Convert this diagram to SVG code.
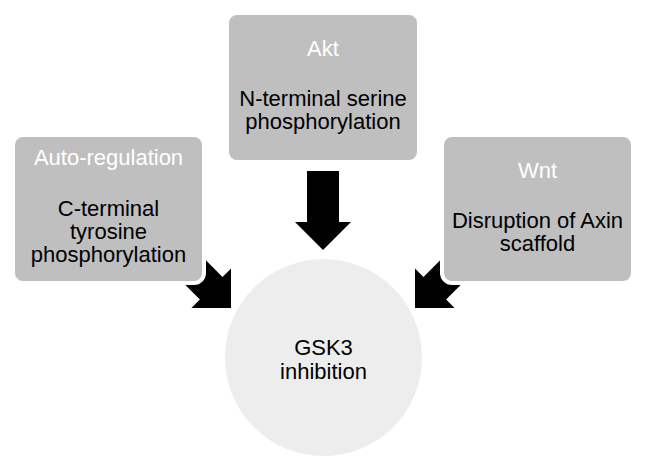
<svg xmlns="http://www.w3.org/2000/svg" width="647" height="468" viewBox="0 0 647 468">
  <style>
    .box { fill: #bfbfbf; stroke: #ffffff; stroke-width: 4; }
    .circ { fill: #ededed; }
    .arrow { fill: #000000; }
    .t { font-family: "Liberation Sans", Arial, sans-serif; font-size: 22px; text-anchor: middle; }
    .title { fill: #ffffff; }
    .body { fill: #000000; }
  </style>
  <defs>
    <polygon id="arr" points="-16,-79 16,-79 16,-28 28,-28 0,0 -28,-28 -16,-28"/>
  </defs>
  <rect width="647" height="468" fill="#ffffff"/>
  <g id="connectors">
    <use href="#arr" class="arrow" transform="translate(323,250)"/>
    <use href="#arr" class="arrow" transform="translate(231,308) rotate(-45)"/>
    <use href="#arr" class="arrow" transform="translate(415,308) rotate(45)"/>
  </g>
  <g id="node-gsk3">
    <circle class="circ" cx="323.5" cy="357.5" r="98.5"/>
    <text class="t body" x="323.5" y="355">GSK3</text>
    <text class="t body" x="323.5" y="379">inhibition</text>
  </g>
  <g id="node-auto">
    <rect class="box" x="13" y="135" width="191" height="148" rx="10"/>
    <text class="t title" x="108.5" y="165">Auto-regulation</text>
    <text class="t body" x="108.5" y="216">C-terminal</text>
    <text class="t body" x="108.5" y="239">tyrosine</text>
    <text class="t body" x="108.5" y="262">phosphorylation</text>
  </g>
  <g id="node-akt">
    <rect class="box" x="227" y="13" width="192" height="149" rx="10"/>
    <text class="t title" x="323" y="56">Akt</text>
    <text class="t body" x="323" y="106">N-terminal serine</text>
    <text class="t body" x="323" y="129">phosphorylation</text>
  </g>
  <g id="node-wnt">
    <rect class="box" x="442" y="135" width="191" height="148" rx="10"/>
    <text class="t title" x="537.5" y="178">Wnt</text>
    <text class="t body" x="537.5" y="228">Disruption of Axin</text>
    <text class="t body" x="537.5" y="251">scaffold</text>
  </g>
</svg>
